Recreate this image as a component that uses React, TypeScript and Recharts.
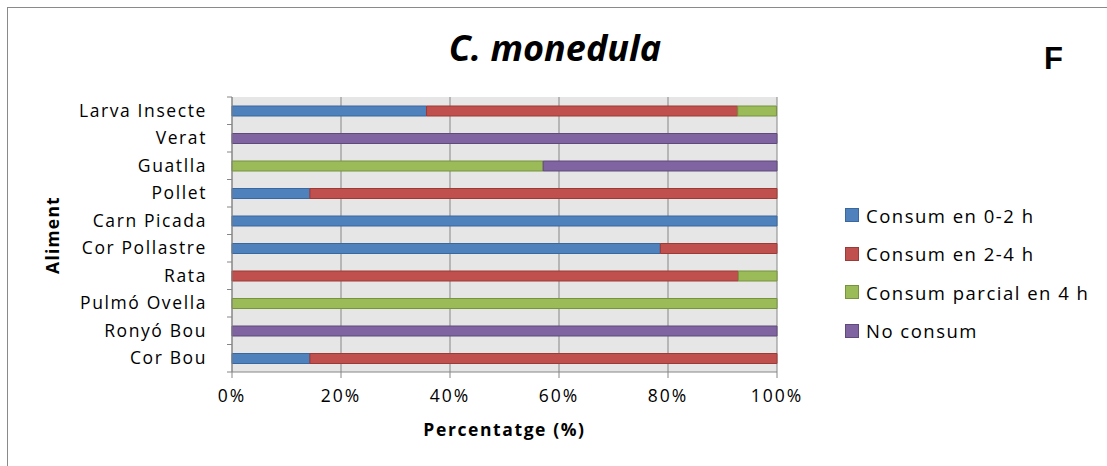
import { Bar, BarChart, CartesianGrid, XAxis, YAxis } from "recharts";

// food items, top to bottom
const aliments = [
  "Larva Insecte",
  "Verat",
  "Guatlla",
  "Pollet",
  "Carn Picada",
  "Cor Pollastre",
  "Rata",
  "Pulmó Ovella",
  "Ronyó Bou",
  "Cor Bou",
];

// percentage of birds per outcome
const consum02 = [35.7, 0, 0, 14.3, 100, 78.6, 0, 0, 0, 14.3];
const consum24 = [57.1, 0, 0, 85.7, 0, 21.4, 92.9, 0, 0, 85.7];
const consumParcial = [7.1, 0, 57.1, 0, 0, 0, 7.1, 100, 0, 0];
const noConsum = [0, 100, 42.9, 0, 0, 0, 0, 0, 100, 0];

const xTicks = [0, 20, 40, 60, 80, 100];

const series = [
  { key: "c02", name: "Consum en 0-2 h", fill: "#4f81bd", stroke: "#3a679e" },
  { key: "c24", name: "Consum en 2-4 h", fill: "#c0504d", stroke: "#9b3a37" },
  { key: "parcial", name: "Consum parcial en 4 h", fill: "#9bbb59", stroke: "#77933c" },
  { key: "no", name: "No consum", fill: "#8064a2", stroke: "#5f4a7b" },
];

const data = aliments.map((a, i) => ({
  aliment: a,
  c02: consum02[i],
  c24: consum24[i],
  parcial: consumParcial[i],
  no: noConsum[i],
}));

const FONT = "'Open Sans', sans-serif";
const AXIS = "#868686";

const W = 1107;
const H = 466;
const M = { top: 97, right: 330, bottom: 0, left: 0 };
const Y_AXIS_W = 232;
const X_AXIS_H = 94;
const BAND = (H - M.top - X_AXIS_H) / aliments.length;

// category label plus a short tick mark on each band boundary
const AlimentTick = (props: any) => {
  const { x, y, payload, index } = props;
  const axisX = x + 25;
  return (
    <g>
      <text
        x={x}
        y={y}
        dy={6}
        textAnchor="end"
        fill="#000"
        fontSize={17.5}
        letterSpacing={1.6}
        fontFamily={FONT}
      >
        {payload.value}
      </text>
      <line x1={axisX - 5} x2={axisX} y1={y + BAND / 2} y2={y + BAND / 2} stroke={AXIS} />
      {index === 0 && (
        <line x1={axisX - 5} x2={axisX} y1={y - BAND / 2} y2={y - BAND / 2} stroke={AXIS} />
      )}
    </g>
  );
};

export default function App() {
  return (
    <div
      style={{
        position: "absolute",
        left: 0,
        top: 0,
        width: W,
        height: H,
        background: "#fff",
        fontFamily: FONT,
        overflow: "hidden",
      }}
    >
      <div
        style={{
          position: "absolute",
          left: 7,
          top: 7,
          width: W,
          height: H,
          borderLeft: "1.5px solid #8a8a8a",
          borderTop: "1.5px solid #8a8a8a",
        }}
      />
      <div
        style={{
          position: "absolute",
          left: 0,
          width: 1110,
          top: 24,
          textAlign: "center",
          fontSize: 36,
          lineHeight: "48px",
          fontWeight: 700,
          fontStyle: "italic",
          color: "#000",
        }}
      >
        C. monedula
      </div>
      <div
        style={{
          position: "absolute",
          left: 1044,
          top: 41,
          fontSize: 31,
          lineHeight: "36px",
          fontWeight: 700,
          fontFamily: "'Liberation Sans', Arial, sans-serif",
        }}
      >
        F
      </div>
      {/* y axis title */}
      <div
        style={{
          position: "absolute",
          left: 52,
          top: 235,
          transform: "translate(-50%, -50%) rotate(-90deg)",
          fontSize: 17.5,
          fontWeight: 700,
          letterSpacing: 1.2,
          lineHeight: "20px",
          whiteSpace: "nowrap",
        }}
      >
        Aliment
      </div>

      <BarChart
        width={W}
        height={H}
        data={data}
        layout="vertical"
        margin={M}
        barSize={10}
        style={{ position: "absolute", left: 0, top: 0 }}
      >
        <CartesianGrid horizontal={false} stroke={AXIS} fill="#e6e6e6" />
        <XAxis
          type="number"
          domain={[0, 100]}
          ticks={xTicks}
          tickFormatter={(v: number) => `${v}%`}
          height={X_AXIS_H}
          stroke={AXIS}
          tickSize={6}
          tickMargin={12}
          tick={{ fill: "#000", fontSize: 17.5, fontFamily: FONT, letterSpacing: 2 }}
          label={{
            value: "Percentatge (%)",
            position: "insideTop",
            offset: 52,
            fill: "#000",
            fontSize: 17.5,
            fontWeight: 700,
            letterSpacing: 1.6,
            fontFamily: FONT,
          }}
        />
        <YAxis
          type="category"
          dataKey="aliment"
          width={Y_AXIS_W}
          stroke={AXIS}
          tickLine={false}
          tickSize={0}
          tickMargin={25}
          interval={0}
          tick={<AlimentTick />}
        />
        {series.map((s) => (
          <Bar
            key={s.key}
            dataKey={s.key}
            name={s.name}
            stackId="a"
            fill={s.fill}
            stroke={s.stroke}
            strokeWidth={1}
            isAnimationActive={false}
          />
        ))}
      </BarChart>

      <div style={{ position: "absolute", left: 845, top: 196 }}>
        {series.map((s) => (
          <div
            key={s.key}
            style={{
              display: "flex",
              alignItems: "center",
              height: 38.5,
              fontSize: 18.5,
              letterSpacing: 1.5,
            }}
          >
            <span
              style={{
                display: "inline-block",
                width: 14,
                height: 14,
                background: s.fill,
                border: `1px solid ${s.stroke}`,
                boxSizing: "border-box",
                marginRight: 7,
              }}
            />
            {s.name}
          </div>
        ))}
      </div>
    </div>
  );
}
